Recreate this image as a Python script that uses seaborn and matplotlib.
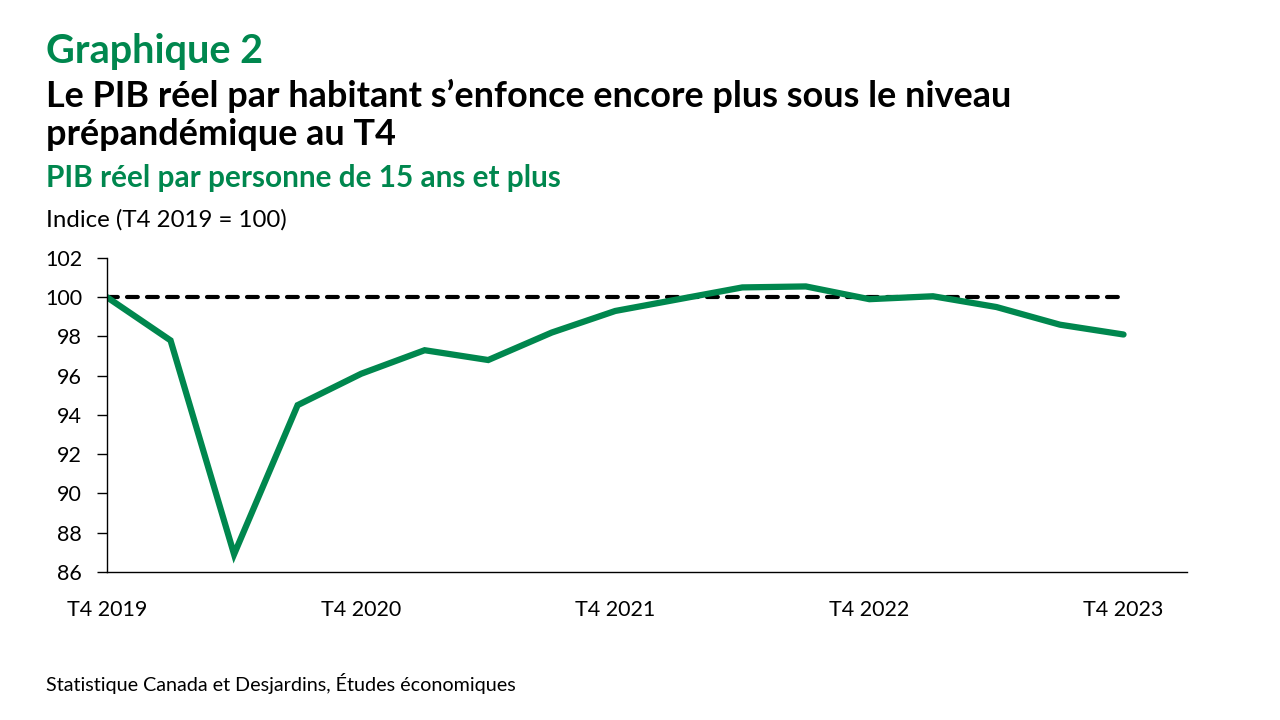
import numpy as np
import pandas as pd
import matplotlib
matplotlib.use("Agg")
import matplotlib.pyplot as plt
import seaborn as sns

# PIB réel par personne de 15 ans et plus, indice T4 2019 = 100
quarters = ["T4 2019", "T1 2020", "T2 2020", "T3 2020", "T4 2020",
            "T1 2021", "T2 2021", "T3 2021", "T4 2021",
            "T1 2022", "T2 2022", "T3 2022", "T4 2022",
            "T1 2023", "T2 2023", "T3 2023", "T4 2023"]
pib = [100.0, 97.8, 86.9, 94.5, 96.1, 97.3, 96.8, 98.2, 99.3,
       99.9, 100.5, 100.55, 99.9, 100.05, 99.5, 98.6, 98.1]
reference = [100.0] * len(quarters)
tick_labels = ["T4 2019", "T4 2020", "T4 2021", "T4 2022", "T4 2023"]

GREEN = "#00874E"

sns.set_theme(style="white")
plt.rcParams['font.family'] = ['Lato', 'DejaVu Sans']

df = pd.DataFrame({"pos": np.arange(len(quarters)), "pib": pib, "ref": reference})

fig = plt.figure(figsize=(12.8, 7.2), dpi=100)
ax = fig.add_axes([0.0836, 0.2056, 0.8438, 0.4361])

sns.lineplot(data=df, x="pos", y="ref", ax=ax, color="black", linewidth=3,
             linestyle=(0, (2.6, 2.2)), dash_capstyle="round")
sns.lineplot(data=df, x="pos", y="pib", ax=ax, color=GREEN, linewidth=4.5,
             solid_capstyle="round", solid_joinstyle="miter")

ax.set_xlim(0, len(quarters))
ax.set_ylim(86, 102)
ax.set_yticks(np.arange(86, 103, 2))
ax.set_xticks([quarters.index(t) for t in tick_labels])
ax.set_xticklabels(tick_labels)
ax.tick_params(axis="y", which="both", left=True, length=7, width=1, color="black",
               labelsize=15.5, pad=11, labelcolor="black")
ax.tick_params(axis="x", bottom=False, labelsize=15.5, pad=14, labelcolor="black")
ax.set_xlabel("")
ax.set_ylabel("")
for s in ["top", "right"]:
    ax.spines[s].set_visible(False)
for s in ["left", "bottom"]:
    ax.spines[s].set_color("black")
    ax.spines[s].set_linewidth(1)

fig.text(0.036, 0.9125, "Graphique 2", fontsize=28.5, fontweight="bold", color=GREEN, va="baseline")
fig.text(0.036, 0.851, "Le PIB réel par habitant s’enfonce encore plus sous le niveau",
         fontsize=25.9, fontweight="bold", color="black", va="baseline")
fig.text(0.036, 0.799, "prépandémique au T4", fontsize=25.9, fontweight="bold",
         color="black", va="baseline")
fig.text(0.036, 0.740, "PIB réel par personne de 15 ans et plus", fontsize=21.4,
         fontweight="bold", color=GREEN, va="baseline")
fig.text(0.036, 0.685, "Indice (T4 2019 = 100)", fontsize=17.3, color="black", va="baseline")
fig.text(0.036, 0.04, "Statistique Canada et Desjardins, Études économiques",
         fontsize=14.2, color="black", va="baseline")

fig.savefig("out.png", dpi=100)
